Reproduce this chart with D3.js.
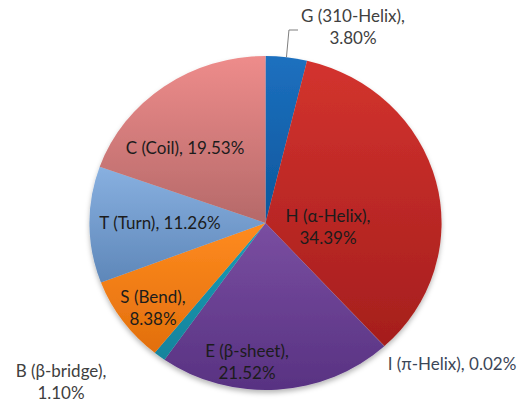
<!DOCTYPE html>
<html>
<head>
<meta charset="utf-8">
<script src="https://cdn.jsdelivr.net/npm/d3@7"></script>
<style>
  html, body { margin: 0; padding: 0; background: #fff; }
  svg { display: block; font-family: Lato, "Open Sans", sans-serif; }
</style>
</head>
<body>
<svg id="chart" width="518" height="403"></svg>
<script>
// Secondary-structure composition (DSSP classes), clockwise from 12 o'clock
const codes   = ["G", "H", "I", "E", "B", "S", "T", "C"];
const names   = ["G (310-Helix),", "H (α-Helix),", "I (π-Helix),", "E (β-sheet),",
                 "B (β-bridge),", "S (Bend),", "T (Turn),", "C (Coil),"];
const shares  = [3.80, 34.39, 0.02, 21.52, 1.10, 8.38, 11.26, 19.53];
const topCols = ["#1d70bf", "#d3332e", "#c0504d", "#7a4ea1", "#1c9cb6", "#ff8b1f", "#88b0e0", "#ee8c8b"];
const botCols = ["#0c579c", "#a51e1d", "#9b3331", "#583282", "#12839c", "#e26f0c", "#5e87b9", "#b56969"];

// Label layout: anchor point, whether the value wraps onto a second line, colour
const labelLayout = [
  { x: 353, y: 26, wrap: true,  fill: "#404040" },
  { x: 328, y: 226, wrap: true,  fill: "#1c1c1c" },
  { x: 452, y: 363, wrap: false, fill: "#3b4658" },
  { x: 247, y: 361, wrap: true,  fill: "#1c1c1c" },
  { x: 61,  y: 381, wrap: true,  fill: "#404040" },
  { x: 153, y: 307, wrap: true,  fill: "#1c1c1c" },
  { x: 160, y: 222, wrap: false, fill: "#1c1c1c" },
  { x: 185, y: 147, wrap: false, fill: "#1c1c1c" }
];

const cx = 265.5, cy = 223, rx = 176, ry = 167;
const svg = d3.select("#chart");
const defs = svg.append("defs");

codes.forEach((c, i) => {
  const g = defs.append("linearGradient")
    .attr("id", "grad-" + c).attr("x1", 0).attr("y1", 0).attr("x2", 0).attr("y2", 1);
  g.append("stop").attr("offset", "0%").attr("stop-color", topCols[i]);
  g.append("stop").attr("offset", "100%").attr("stop-color", botCols[i]);
});

const shadow = defs.append("filter").attr("id", "shadow")
  .attr("x", "-10%").attr("y", "-10%").attr("width", "120%").attr("height", "125%");
shadow.append("feDropShadow").attr("dx", 0).attr("dy", 3).attr("stdDeviation", 2.5)
  .attr("flood-color", "#000").attr("flood-opacity", 0.28);

const pie = d3.pie().sort(null).value(d => d)(shares);
// unit-radius arcs, stretched to the ellipse by the group transform
const arc = d3.arc().innerRadius(0).outerRadius(1);

const pieG = svg.append("g")
  .attr("filter", "url(#shadow)")
  .append("g")
  .attr("transform", `translate(${cx},${cy}) scale(${rx},${ry})`);

pieG.selectAll("path")
  .data(pie)
  .join("path")
  .attr("d", arc)
  .attr("fill", (d, i) => `url(#grad-${codes[i]})`);

// leader line for the narrow G slice
const gMid = (pie[0].startAngle + pie[0].endAngle) / 2;
const gx = cx + rx * Math.sin(gMid), gy = cy - ry * Math.cos(gMid);
svg.append("path")
  .attr("d", `M${gx},${gy} L${gx + 2.5},${30} L${298},${30}`)
  .attr("fill", "none").attr("stroke", "#7f7f7f").attr("stroke-width", 1);

const labels = svg.append("g").attr("font-size", 17);
labelLayout.forEach((L, i) => {
  const value = shares[i].toFixed(2) + "%";
  const t = labels.append("text")
    .attr("fill", L.fill)
    .attr("text-anchor", "middle")
    .attr("dominant-baseline", "central");
  if (L.wrap) {
    t.append("tspan").attr("x", L.x).attr("y", L.y - 11).text(names[i]);
    t.append("tspan").attr("x", L.x).attr("y", L.y + 11).text(value);
  } else {
    t.attr("x", L.x).attr("y", L.y).text(names[i] + " " + value);
  }
});
</script>
</body>
</html>
